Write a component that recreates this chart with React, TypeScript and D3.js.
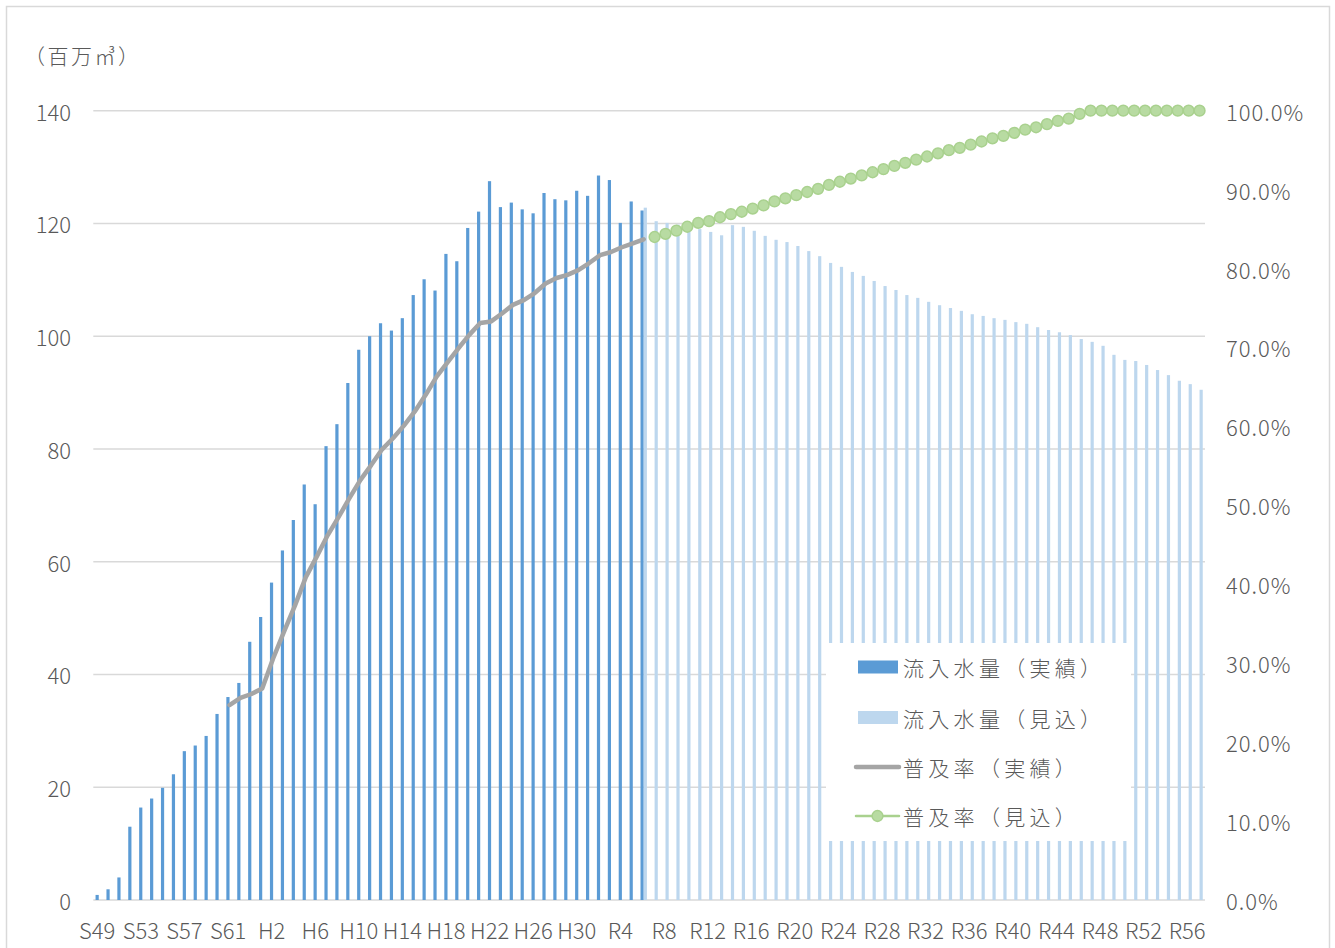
import React from 'react';
import * as d3 from 'd3';

// Categories: fiscal years S49 (1974) .. R57 (2075)
const showa = d3.range(49, 64).map((n) => `S${n}`);
const heisei = d3.range(1, 31).map((n) => `H${n}`);
const reiwa = d3.range(1, 58).map((n) => `R${n}`);
const categories: string[] = [...showa, ...heisei, ...reiwa];

const tickLabels = ['S49','S53','S57','S61','H2','H6','H10','H14','H18','H22','H26','H30','R4','R8','R12','R16','R20','R24','R28','R32','R36','R40','R44','R48','R52','R56'];

// 流入水量（実績）S49..R6 (百万m3)
const inflowActual = [
  0.9, 1.9, 4.0, 13.0, 16.4, 18.0, 19.9, 22.3, 26.4, 27.4, 29.1, 33.0, 36.0, 38.5, 45.8,
  50.2, 56.3, 62.0, 67.4, 73.7, 70.2, 80.5, 84.4, 91.7, 97.6, 100.0, 102.3, 101.0, 103.2, 107.3,
  110.1, 108.1, 114.6, 113.3, 119.2, 122.1, 127.5, 122.9, 123.7, 122.5, 121.8, 125.4, 124.3, 124.1, 125.8,
  124.9, 128.5, 127.7, 120.1, 123.9, 122.3,
];
// 流入水量（見込）R6..R57
const inflowForecast = [
  122.8, 120.4, 120.1, 119.8, 119.4, 119.0, 118.5, 117.9, 119.7, 119.4, 118.7, 117.8, 117.1, 116.7, 116.0,
  115.1, 114.2, 113.0, 112.3, 111.4, 110.7, 109.8, 108.9, 108.2, 107.3, 106.8, 106.1, 105.5, 105.0, 104.5,
  103.9, 103.6, 103.2, 102.9, 102.5, 102.2, 101.6, 101.1, 100.7, 100.2, 99.5, 99.0, 98.3, 96.7, 95.8,
  95.6, 94.9, 94.0, 93.1, 92.1, 91.5, 90.5,
];
// 普及率（実績）S61..R6 (%)
const rateActual = [
  24.7, 25.6, 26.1, 26.8, 30.6, 34.0, 37.3, 40.9, 43.5, 46.2, 48.5, 50.9, 53.2, 55.1, 57.1,
  58.5, 60.1, 61.9, 64.0, 66.3, 68.1, 69.9, 71.6, 73.1, 73.3, 74.3, 75.4, 76.0, 76.9, 78.1,
  78.8, 79.2, 79.8, 80.7, 81.7, 82.1, 82.7, 83.2, 83.7,
];
// 普及率（見込）R7..R57 (%)
const rateForecast = [
  84.0, 84.4, 84.8, 85.3, 85.8, 86.0, 86.5, 86.9, 87.2, 87.6, 88.0, 88.5, 88.9, 89.3, 89.7,
  90.1, 90.6, 91.0, 91.4, 91.8, 92.2, 92.6, 93.0, 93.4, 93.8, 94.2, 94.6, 95.0, 95.3, 95.7,
  96.1, 96.5, 96.8, 97.2, 97.6, 97.9, 98.3, 98.7, 99.0, 99.6, 100, 100, 100, 100, 100,
  100, 100, 100, 100, 100, 100,
];

const leftTicks = [0, 20, 40, 60, 80, 100, 120, 140];
const rightTicks = [0, 10, 20, 30, 40, 50, 60, 70, 80, 90, 100];

const legendItems = ['流入水量（実績）', '流入水量（見込）', '普及率（実績）', '普及率（見込）'];

const C = {
  dark: '#5B9BD5',
  light: '#BDD7EE',
  gray: '#A5A5A5',
  green: '#A9D18E',
  greenFill: '#B8DBA2',
  grid: '#D9D9D9',
  text: '#595959',
};

const FONT = "'Noto Sans CJK JP', 'Noto Sans', sans-serif";

export default function App() {
  const W = 1335;
  const H = 948;
  const x = d3.scaleBand<string>().domain(categories).range([93.3, 1205]).paddingInner(0).paddingOuter(0);
  const bw = x.bandwidth();
  const xs = d3.scaleBand<string>().domain(['a', 'f']).range([bw / 2 - 3.2, bw / 2 + 3.2]);
  const yL = d3.scaleLinear().domain([0, 140]).range([900, 110.7]);
  const yR = d3.scaleLinear().domain([0, 100]).range([900, 110.7]);
  const cx = (c: string) => (x(c) as number) + bw / 2;

  const actCats = categories.slice(0, inflowActual.length);
  const fcCats = categories.slice(50, 50 + inflowForecast.length);
  const rateActCats = categories.slice(12, 12 + rateActual.length);
  const rateFcCats = categories.slice(51, 51 + rateForecast.length);

  const line = d3.line<[string, number]>().x((d) => cx(d[0])).y((d) => yR(d[1]));
  const grayPath = line(rateActCats.map((c, i) => [c, rateActual[i]]));
  const greenPts: [string, number][] = rateFcCats.map((c, i) => [c, rateForecast[i]]);
  const greenPath = line(greenPts);

  const legX = 826, legY = 643, legW = 305, legH = 198;
  const legRows = [667, 717.5, 767, 816];

  return (
    <svg width={W} height={H} style={{ position: 'absolute', left: 0, top: 0, background: '#fff' }} fontFamily={FONT}>
      <rect x={6.5} y={6.5} width={1323} height={960} fill="#fff" stroke={C.grid} strokeWidth={1.5} />
      {/* gridlines */}
      {leftTicks.map((t) => (
        <line key={t} x1={93.3} x2={1205} y1={yL(t)} y2={yL(t)} stroke={C.grid} strokeWidth={1.4} />
      ))}
      {/* bars */}
      {actCats.map((c, i) => (
        <rect key={'a' + c} x={(x(c) as number) + (xs('a') as number)} width={xs.bandwidth()} y={yL(inflowActual[i])} height={yL(0) - yL(inflowActual[i])} fill={C.dark} />
      ))}
      {fcCats.map((c, i) => (
        <rect key={'f' + c} x={(x(c) as number) + (xs('f') as number)} width={xs.bandwidth()} y={yL(inflowForecast[i])} height={yL(0) - yL(inflowForecast[i])} fill={C.light} />
      ))}
      {/* lines */}
      <path d={grayPath || ''} fill="none" stroke={C.gray} strokeWidth={4.5} strokeLinejoin="round" strokeLinecap="round" />
      <path d={greenPath || ''} fill="none" stroke={C.green} strokeWidth={2.5} strokeLinejoin="round" />
      {greenPts.map((d) => (
        <circle key={'g' + d[0]} cx={cx(d[0])} cy={yR(d[1])} r={5.4} fill={C.greenFill} stroke={C.green} strokeWidth={1.5} />
      ))}
      {/* left axis labels */}
      {leftTicks.map((t) => (
        <text key={'l' + t} x={71} y={yL(t)} textAnchor="end" dominantBaseline="central" fontSize={22} fontWeight={300} fill={C.text}>
          {String(t)}
        </text>
      ))}
      {/* right axis labels */}
      {rightTicks.map((t) => (
        <text key={'r' + t} x={1226} y={yR(t)} textAnchor="start" dominantBaseline="central" fontSize={22} fontWeight={300} fill={C.text} letterSpacing={1}>
          {d3.format('.1f')(t) + '%'}
        </text>
      ))}
      {/* x labels */}
      {tickLabels.map((c) => (
        <text key={'x' + c} x={cx(c) - 1.5} y={929} textAnchor="middle" dominantBaseline="central" fontSize={22} fontWeight={300} fill={C.text}>
          {c}
        </text>
      ))}
      {/* unit */}
      <text x={24} y={55} dominantBaseline="central" fontSize={21} fontWeight={300} fill={C.text} letterSpacing={2.5}>（百万㎥）</text>
      {/* legend */}
      <rect x={legX} y={legY} width={legW} height={legH} fill="#fff" />
      <rect x={858} y={legRows[0] - 6.5} width={40} height={13} fill={C.dark} />
      <rect x={858} y={legRows[1] - 6.5} width={40} height={13} fill={C.light} />
      <line x1={856} x2={899} y1={legRows[2]} y2={legRows[2]} stroke={C.gray} strokeWidth={4.5} strokeLinecap="round" />
      <line x1={856} x2={899} y1={legRows[3]} y2={legRows[3]} stroke={C.green} strokeWidth={2.5} strokeLinecap="round" />
      <circle cx={877.5} cy={legRows[3]} r={5.4} fill={C.greenFill} stroke={C.green} strokeWidth={1.5} />
      {legendItems.map((t, i) => (
        <text key={t} x={903} y={legRows[i]} dominantBaseline="central" fontSize={21} fontWeight={300} fill={C.text} letterSpacing={4.3}>
          {t}
        </text>
      ))}
    </svg>
  );
}
